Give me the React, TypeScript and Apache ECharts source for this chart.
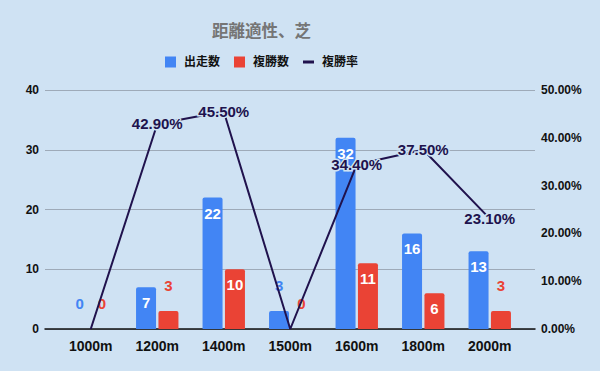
import React, { useEffect, useRef } from "react";
import * as echarts from "echarts";

const categories = ["1000m", "1200m", "1400m", "1500m", "1600m", "1800m", "2000m"];
const starts = [0, 7, 22, 3, 32, 16, 13];
const places = [0, 3, 10, 0, 11, 6, 3];
const rates = [0, 42.9, 45.5, 0, 34.4, 37.5, 23.1];

const countMax = 40;
const countInterval = 10;
const rateMax = 50;
const rateInterval = 10;

const BG = "#cfe2f3";
const BLUE = "#4285f4";
const RED = "#ea4335";
const NAVY = "#20124d";
const FONT = "'Liberation Sans', 'Noto Sans CJK JP', sans-serif";

function barData(values: number[], color: string) {
  return values.map((v) => {
    const inside = v >= 5;
    return {
      value: v,
      label: inside
        ? { position: "insideTop", distance: 8, color: "#ffffff" }
        : { position: "top", distance: 18, color },
    };
  });
}

export default function App() {
  const ref = useRef<HTMLDivElement>(null);
  useEffect(() => {
    document.body.style.margin = "0";
    const chart = echarts.init(ref.current!, null, { renderer: "svg" });
    const barLabel = {
      show: true,
      fontFamily: FONT,
      fontWeight: "bold",
      fontSize: 15,
    };
    const legendText = { color: "#111", fontSize: 12, fontWeight: "bold", fontFamily: FONT, padding: [0, 0, 0, 3] };
    chart.setOption({
      animation: false,
      backgroundColor: BG,
      textStyle: { fontFamily: FONT },
      title: {
        text: "距離適性、芝",
        left: 212,
        top: 23,
        padding: 0,
        textStyle: { color: "#757575", fontSize: 16.5, fontWeight: "bold", fontFamily: FONT },
      },
      legend: [
        {
          data: ["出走数", "複勝数"],
          left: 165,
          top: 56,
          padding: 0,
          icon: "rect",
          itemWidth: 11,
          itemHeight: 11,
          itemGap: 14,
          textStyle: legendText,
        },
        {
          data: ["複勝率"],
          left: 303,
          top: 56,
          padding: 0,
          icon: "rect",
          itemWidth: 11,
          itemHeight: 3,
          textStyle: legendText,
        },
      ],
      grid: [
        { left: 45, right: 65, top: 90, bottom: 42 },
        { left: 57.5, right: 77, top: 90, bottom: 42 },
      ],
      xAxis: [
        {
          gridIndex: 0,
          type: "value",
          min: 0,
          max: 1,
          axisLine: { show: true, lineStyle: { color: "#111", width: 1.5 } },
          axisTick: { show: false },
          axisLabel: { show: false },
          splitLine: { show: false },
        },
        {
          gridIndex: 1,
          type: "category",
          data: categories,
          axisLine: { show: false },
          axisTick: { show: false },
          axisLabel: { color: "#111", fontSize: 14, fontWeight: "bold", fontFamily: FONT, margin: 10 },
        },
      ],
      yAxis: [
        {
          gridIndex: 0,
          type: "value",
          min: 0,
          max: countMax,
          interval: countInterval,
          position: "left",
          axisLine: { show: false },
          axisTick: { show: false },
          axisLabel: { color: "#111", fontSize: 12, fontWeight: "bold", fontFamily: FONT, margin: 6 },
          splitLine: { lineStyle: { color: "#9eaab8", width: 1 } },
        },
        {
          gridIndex: 0,
          type: "value",
          min: 0,
          max: rateMax,
          interval: rateInterval,
          position: "right",
          axisLine: { show: false },
          axisTick: { show: false },
          axisLabel: {
            color: "#111",
            fontSize: 12,
            fontWeight: "bold",
            fontFamily: FONT,
            margin: 6,
            formatter: (v: number) => v.toFixed(2) + "%",
          },
          splitLine: { show: false },
        },
        { gridIndex: 1, type: "value", min: 0, max: countMax, show: false },
        { gridIndex: 1, type: "value", min: 0, max: rateMax, show: false },
      ],
      series: [
        {
          name: "出走数",
          type: "bar",
          xAxisIndex: 1,
          yAxisIndex: 2,
          barWidth: 20,
          barGap: "12%",
          itemStyle: { color: BLUE, borderRadius: [2, 2, 0, 0] },
          label: barLabel,
          data: barData(starts, BLUE),
        },
        {
          name: "複勝数",
          type: "bar",
          xAxisIndex: 1,
          yAxisIndex: 2,
          barWidth: 20,
          itemStyle: { color: RED, borderRadius: [2, 2, 0, 0] },
          label: barLabel,
          data: barData(places, RED),
        },
        {
          name: "複勝率",
          type: "line",
          xAxisIndex: 1,
          yAxisIndex: 3,
          symbol: "circle",
          symbolSize: 0.1,
          showSymbol: true,
          lineStyle: { color: NAVY, width: 2 },
          itemStyle: { color: NAVY },
          label: {
            show: true,
            position: "inside",
            color: NAVY,
            fontSize: 15,
            fontWeight: "bold",
            fontFamily: FONT,
            textBorderColor: BG,
            textBorderWidth: 3,
            formatter: (p: any) => (p.value === 0 ? "" : p.value.toFixed(2) + "%"),
          },
          data: rates,
        },
      ],
    });
    return () => chart.dispose();
  }, []);
  return <div ref={ref} style={{ width: 600, height: 371 }} />;
}
